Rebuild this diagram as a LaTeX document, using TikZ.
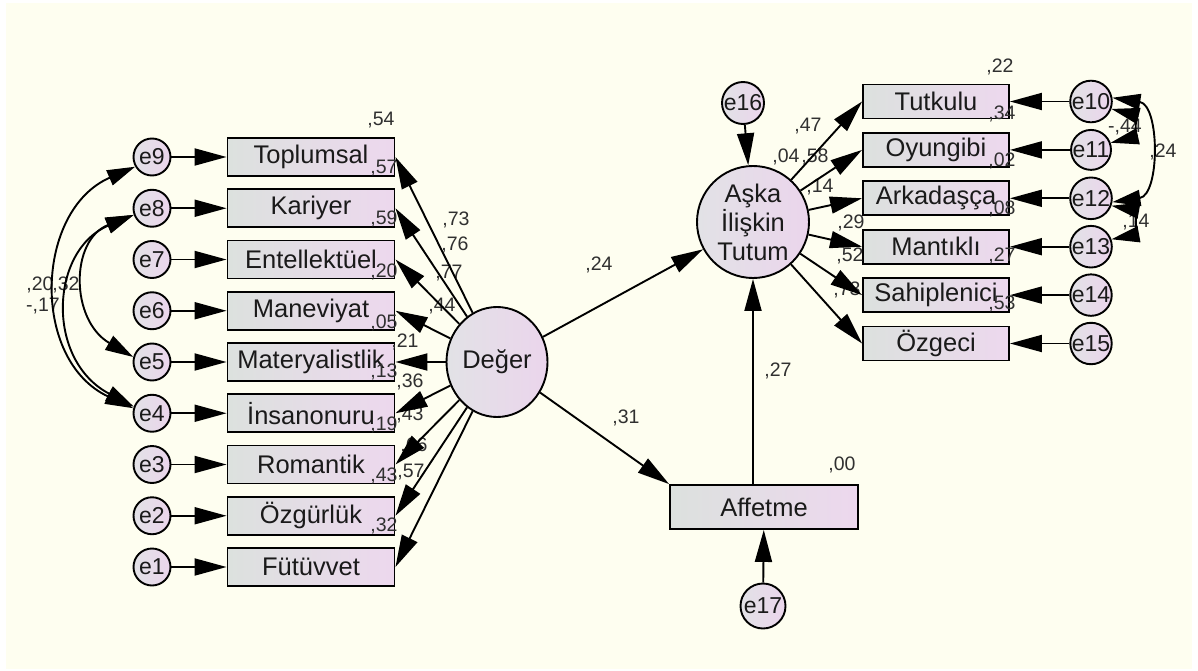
\documentclass[tikz,border=0pt]{standalone}
\usepackage{fontspec}
\setmainfont{Liberation Sans}
\usetikzlibrary{arrows.meta,shapes.geometric,calc}
\definecolor{bgivory}{HTML}{FEFEF0}
\definecolor{boxL}{HTML}{DCE1DE}
\definecolor{boxR}{HTML}{EDD8EE}
\definecolor{cirL}{HTML}{E2E2E6}
\definecolor{cirR}{HTML}{EBD5EC}
\definecolor{txt}{HTML}{1A1A1A}
\definecolor{lbl}{HTML}{303030}
\begin{document}
\begin{tikzpicture}[x=1pt,y=1pt,line width=1.9pt,
  obs/.style={draw,rectangle,minimum width=167pt,minimum height=38pt,inner sep=0pt,
    left color=boxL,right color=boxR,text=txt,font=\fontsize{25.5}{29}\selectfont},
  robs/.style={obs,minimum width=146pt,minimum height=34pt},
  errc/.style={draw,circle,minimum size=37pt,inner sep=0pt,left color=cirL,right color=cirR,
    text=txt,font=\fontsize{23}{24}\selectfont},
  lat/.style={draw,circle,inner sep=0pt,left color=cirL,right color=cirR,text=txt,
    font=\fontsize{25.5}{29}\selectfont,align=center},
  val/.style={inner sep=0pt,text=lbl,font=\fontsize{19.5}{21}\selectfont},
  arr/.style={-{Triangle[length=32pt,width=17pt]}},
  cov/.style={{Triangle[length=28pt,width=16pt]}-{Triangle[length=28pt,width=16pt]}}
]
\useasboundingbox (0,0) rectangle (1198,-671);
\fill[white] (0,0) rectangle (1198,-671);
\fill[bgivory] (6,-3) rectangle (1192,-669);

% left indicators
\foreach \i/\t [count=\k from 0] in {9/Toplumsal,8/Kariyer,7/Entellektüel,6/Maneviyat,5/Materyalistlik,4/İnsanonuru,3/Romantik,2/Özgürlük,1/Fütüvvet}{
  \node[errc] (e\i) at (152,{-157-51.25*\k}) {e\i};
  \node[obs] (v\i) at (311,{-157-51.25*\k}) {\t};
}
% right indicators
\foreach \i/\t [count=\k from 0] in {10/Tutkulu,11/Oyungibi,12/Arkadaşça,13/Mantıklı,14/Sahiplenici,15/Özgeci}{
  \node[errc,minimum size=38pt] (e\i) at (1091,{-101.5-48.4*\k}) {e\i};
  \node[robs] (v\i) at (936,{-101.5-48.4*\k}) {\t};
}
\node[lat,shape=ellipse,minimum width=101pt,minimum height=110pt] (deger) at (497,-362) {Değer};
\node[lat,minimum size=112pt] (ask) at (753,-222) {Aşka\\İlişkin\\Tutum};
\node[obs,minimum width=188pt,minimum height=44pt] (aff) at (764,-507) {Affetme};
\node[errc,minimum size=42pt] (e16) at (743,-103) {e16};
\node[errc,minimum size=45pt] (e17) at (763,-606) {e17};

% value labels
\foreach \v/\x/\y in {54/381/120, 57/384/168, 59/384/219, 20/384/272, 05/384/323, 13/384/372, 19/384/425, 43/384/476, 32/384/526,
  73/456/220, 76/455/245, 77/449/273, 44/442/306, 21/405/342, 36/410/382, 43/410/415, 66/414/446, 57/411/472,
  22/1000/67, 34/1002/114, 02/1002/161, 08/1002/209, 27/1002/256, 53/1002/304,
  47/808/126, 04/786/157, 58/815/157, 14/820/187, 29/851/223, 52/850/256, 73/847/290,
  24/599/265, 31/626/418, 27/778/371, 00/842/465,
  20/40/285, 32/66/285, 24/1163/152, 14/1136/222}{
  \node[val] (lab\v-\x) at (\x,-\y) {,\v};
}
\node[val] (labm17) at (43,-306) {-,17};
\node[val] (labm44) at (1125,-127) {-,44};

% connectors
\foreach \i in {1,...,9}{
  \draw[arr] (e\i) -- (v\i);
  \draw[arr] (deger) -- (v\i.east);
}
\foreach \i in {10,...,15}{
  \draw[arr] (e\i) -- (v\i);
  \draw[arr] (ask) -- (v\i.west);
}
\draw[arr] (e16) -- (ask);
\draw[arr] (deger) -- (ask);
\draw[arr] (deger) -- (aff.north west);
\coordinate (affTop) at (aff.north -| ask.south);
\draw[arr] (affTop) -- (ask.south);
\draw[arr] (e17) -- (aff);

% covariances left
\draw[cov] (e9.210) .. controls (35,-210) and (30,-360) .. (e4.165);
\draw[cov] (e8.200) .. controls (50,-250) and (45,-360) .. (e4.160);
\draw[cov] (e8.200) .. controls (70,-240) and (70,-320) .. (e5.165);
% covariances right
\draw[cov] (e10.10) .. controls (1160,-105) and (1160,-195) .. (e12.350);
\draw[cov] (e10.340) .. controls (1135,-115) and (1135,-137) .. (e11.20);
\draw[cov] (e12.340) .. controls (1135,-210) and (1135,-235) .. (e13.20);
\end{tikzpicture}
\end{document}
